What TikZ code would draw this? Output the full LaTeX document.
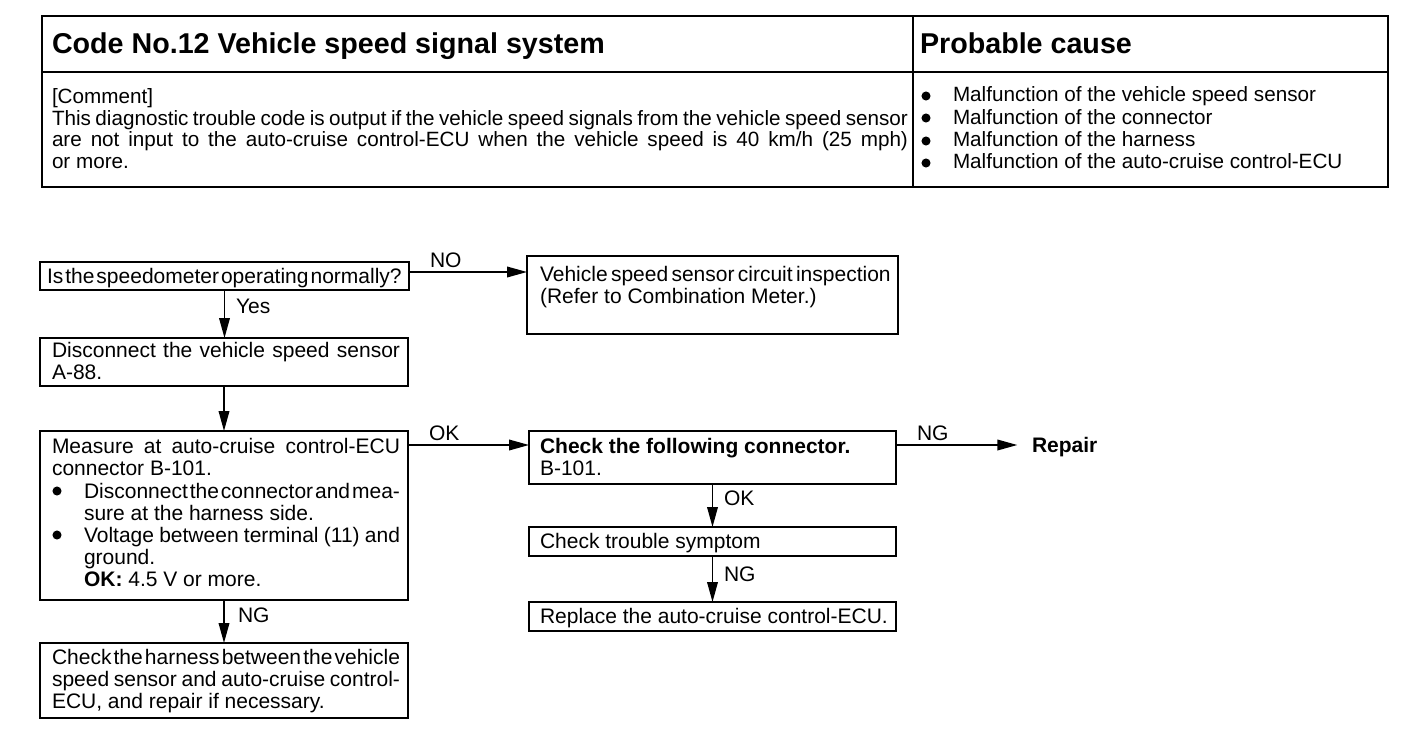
\documentclass[tikz,border=0pt]{standalone}
\usepackage{fontspec}
\setmainfont{Liberation Sans}
\usetikzlibrary{arrows.meta,calc}
\newcommand\mybox[5]{\node[box, minimum width={(#4-#2)*0.75pt}, minimum height={(#5-#3)*0.75pt}] (#1) at (#2,#3) {};}
\newcommand\bodyfont[2]{\fontsize{#1}{#2}\selectfont\fontdimen4\font=3.4pt\relax}
\newcommand\jline[2]{\hbox to #1{#2}}
\begin{document}
\begin{tikzpicture}[x=0.75pt,y=-0.75pt,
  every node/.style={inner sep=0pt, outer sep=0pt},
  txt/.style={anchor=base west, font=\bodyfont{15.75}{16.5}, align=justify},
  head/.style={anchor=base west, font=\fontsize{21.5}{24}\selectfont\bfseries},
  lbl/.style={anchor=base west, font=\fontsize{15.75}{18}\selectfont},
  box/.style={draw, line width=1.5pt, anchor=north west},
  dot/.style={circle, fill=black, minimum size=6.8pt},
  arr/.style={line width=1.1pt, -{Triangle[length=15pt,width=8pt]}},
]
\useasboundingbox (0,0) rectangle (1408,738);
% table
\draw[line width=2.2pt] (42,16) rectangle (1388,187);
\draw[line width=1.2pt] (42,72) -- (1388,72);
\draw[line width=1.2pt] (913,16) -- (913,187);
\node[head] (title) at (52,54) {Code No.12 Vehicle speed signal system};
\node[head] (pc) at (920,54) {Probable cause};
\node[txt, text width=642pt, font=\bodyfont{15.5}{16}] (comment) at (52,104)
  {[Comment]\\\jline{642pt}{This diagnostic trouble code is output if the vehicle speed signals from the vehicle speed sensor}\\\jline{642pt}{are not input to the auto-cruise control-ECU when the vehicle speed is 40 km/h (25 mph)}\\or more.};
\node[txt, font=\bodyfont{15.5}{16.75}, text width=320pt] (causes) at (953,102)
  {Malfunction of the vehicle speed sensor\\Malfunction of the connector\\Malfunction of the harness\\Malfunction of the auto-cruise control-ECU};
\node[dot] (c1) at (926,96) {};
\node[dot] (c2) at (926,118) {};
\node[dot] (c3) at (926,141) {};
\node[dot] (c4) at (926,163) {};
% flow boxes
\mybox{b1}{40}{262}{409}{290}
\mybox{b2}{527}{256}{898}{334}
\mybox{b3}{40}{338}{408}{386}
\mybox{b4}{40}{431}{408}{600}
\mybox{b5}{40}{643}{408}{718}
\mybox{b6}{529}{431}{896}{484}
\mybox{b7}{529}{527}{896}{556}
\mybox{b8}{529}{602}{896}{631}
% box texts
\node[txt] (t1) at (47,283) {\jline{266pt}{Is the speedometer operating normally?}};
\node[txt, text width=270pt] (t2) at (540,281) {\jline{263pt}{Vehicle speed sensor circuit inspection}\\(Refer to Combination Meter.)};
\node[txt, text width=261pt] (t3) at (52,357) {\jline{261pt}{Disconnect the vehicle speed sensor}\\A-88.};
\node[txt, text width=261pt] (t4a) at (52,453) {\jline{261pt}{Measure at auto-cruise control-ECU}\\connector B-101.};
\node[txt, text width=237pt] (t4b) at (84,498) {\jline{237pt}{Disconnect the connector and mea-}\\sure at the harness side.};
\node[txt, text width=237pt] (t4c) at (84,542) {\jline{237pt}{Voltage between terminal (11) and}\\ground.\\\textbf{OK:} 4.5 V or more.};
\node[dot] (d1) at (57,491) {};
\node[dot] (d2) at (57,535) {};
\node[txt, text width=261pt] (t5) at (52,664) {\jline{261pt}{Check the harness between the vehicle}\\\jline{261pt}{speed sensor and auto-cruise control-}\\ECU, and repair if necessary.};
\node[txt, text width=270pt] (t6) at (540,453) {\textbf{Check the following connector.}\\B-101.};
\node[txt] (t7) at (540,548) {Check trouble symptom};
\node[txt] (t8) at (540,623) {Replace the auto-cruise control-ECU.};
\node[anchor=base west, font=\fontsize{15.75}{16.5}\selectfont\bfseries] (repair) at (1032,452) {Repair};
% connectors
\draw[arr] ([yshift=3pt]b1.east) -- ([yshift=3pt]b1.east -| b2.west);
\draw[arr] (b1.south) -- (b1.south |- b3.north);
\draw[arr] (b3.south) -- (b3.south |- b4.north);
\draw[arr] (b4.south) -- (b4.south |- b5.north);
\draw[arr] ([yshift=-10.5pt]b4.north east) -- ([yshift=-10.5pt]b4.north east -| b6.west);
\draw[arr] ([yshift=-10.5pt]b6.north east) -- ([yshift=-10.5pt,xshift=-11pt]b6.north east -| repair.west);
\draw[arr] (b6.south) -- (b7.north);
\draw[arr] (b7.south) -- (b8.north);
% labels
\node[lbl] (lno) at (430,267) {NO};
\node[lbl] (lyes) at (236,313) {Yes};
\node[lbl] (lok1) at (429,440) {OK};
\node[lbl] (lng1) at (917,440) {NG};
\node[lbl] (lok2) at (724,505) {OK};
\node[lbl] (lng2) at (724,581) {NG};
\node[lbl] (lng3) at (238,622) {NG};
\end{tikzpicture}
\end{document}
